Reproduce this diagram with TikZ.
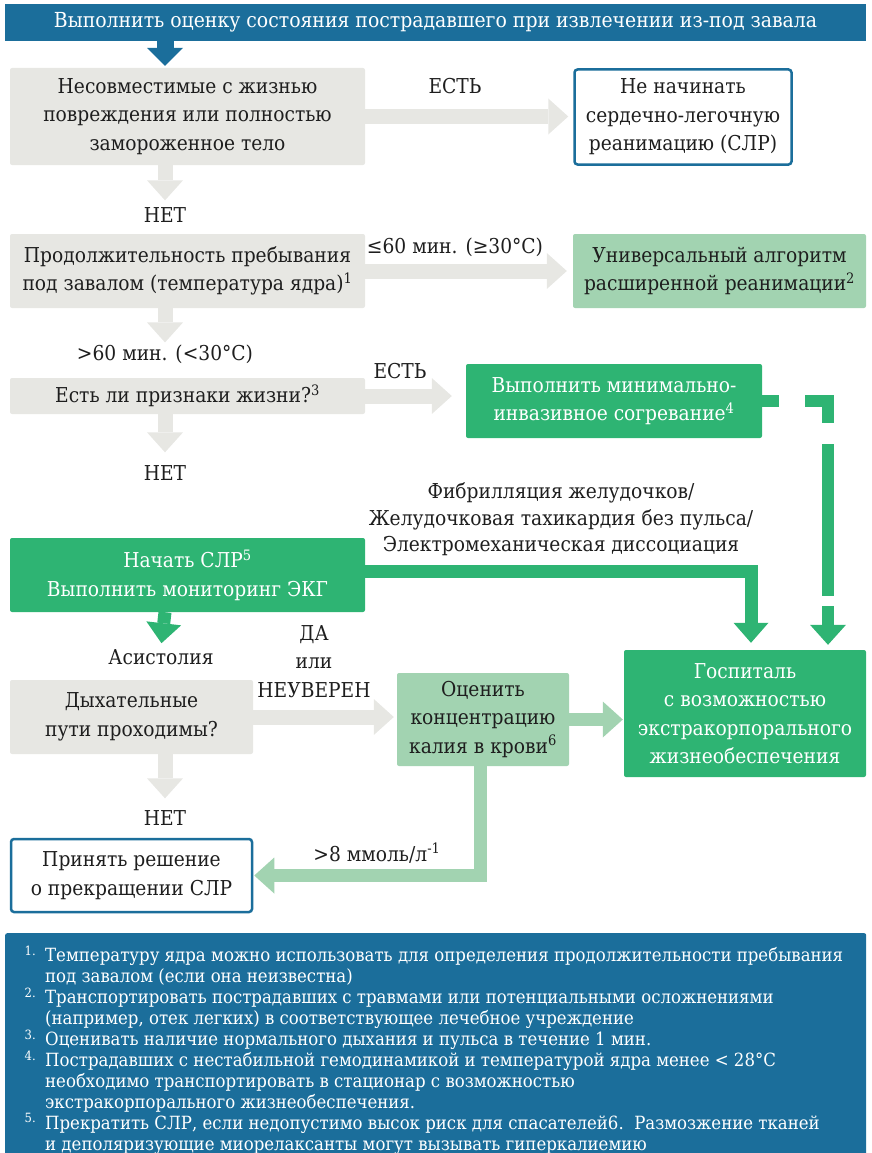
\documentclass[tikz,border=0pt]{standalone}
\usepackage{fontspec}
\setmainfont{DejaVu Serif}[FakeStretch=0.91]
\usepackage{tikz}
\usetikzlibrary{arrows.meta}
\definecolor{headblue}{HTML}{1B6E9B}
\definecolor{boxgray}{HTML}{E7E7E3}
\definecolor{darkgreen}{HTML}{2EB473}
\definecolor{lightgreen}{HTML}{A2D3B1}
\definecolor{ink}{HTML}{1E1E1E}
\newcommand{\flowfont}{\fontsize{20.5}{28.5}\selectfont}
\tikzstyle{title} = [rectangle, fill=headblue, text=white, minimum width=861pt, minimum height=37pt, font=\fontsize{20.7}{24}\selectfont]
\tikzstyle{question} = [rectangle, rounded corners=2pt, fill=boxgray, text=ink, align=center, font=\flowfont]
\tikzstyle{stopbox} = [rectangle, rounded corners=3pt, draw=headblue, line width=2.5pt, fill=white, text=ink, align=center, font=\flowfont]
\tikzstyle{action} = [rectangle, rounded corners=2pt, fill=darkgreen, text=white, align=center, font=\flowfont]
\tikzstyle{check} = [rectangle, rounded corners=2pt, fill=lightgreen, text=ink, align=center, font=\flowfont]
\tikzstyle{answer} = [inner sep=2pt, text=ink, align=center, font=\flowfont]
\tikzstyle{bluearrow} = [line width=17pt, draw=headblue, -{Triangle[length=18pt, width=36pt, line width=0pt]}]
\tikzstyle{grayarrow} = [line width=15pt, draw=boxgray, -{Triangle[length=20pt, width=36pt, line width=0pt]}]
\tikzstyle{greenarrow} = [line width=13pt, draw=darkgreen, -{Triangle[length=20pt, width=35pt, line width=0pt]}]
\tikzstyle{lightarrow} = [line width=13pt, draw=lightgreen, -{Triangle[length=20pt, width=36pt, line width=0pt]}]
\tikzstyle{dashedarrow} = [line width=12pt, draw=darkgreen, dash pattern=on 17pt off 26pt on 45pt off 21pt on 152pt off 10pt on 200pt, -{Triangle[length=20pt, width=36pt, line width=0pt]}]

\begin{document}
\begin{tikzpicture}[x=1pt, y=-1pt]
	\useasboundingbox (0,0) rectangle (871,1153);

	\node (head) [title] at (435.5,22.5) {Выполнить оценку состояния пострадавшего при извлечении из-под завала};

	\node (damage) [question, minimum width=355pt, minimum height=97pt] at (187.5,116.5) {Несовместимые с жизнью\\повреждения или полностью\\замороженное тело};
	\node (nocpr) [stopbox, minimum width=217pt, minimum height=95pt] at (683,117) {Не начинать\\сердечно-легочную\\реанимацию (СЛР)};
	\node (duration) [question, minimum width=355pt, minimum height=74pt] at (187.5,271) {Продолжительность пребывания\\под завалом (температура ядра)\textsuperscript{1}};
	\node (als) [check, minimum width=293pt, minimum height=74pt] at (719.5,271) {Универсальный алгоритм\\расширенной реанимации\textsuperscript{2}};
	\node (vital) [question, minimum width=355pt, minimum height=36pt] at (187.5,396) {Есть ли признаки жизни?\textsuperscript{3}};
	\node (rewarm) [action, minimum width=296pt, minimum height=74pt] at (614,401) {Выполнить минимально-\\инвазивное согревание\textsuperscript{4}};
	\node (startcpr) [action, minimum width=355pt, minimum height=74pt] at (187.5,575) {Начать СЛР\textsuperscript{5}\\Выполнить мониторинг ЭКГ};
	\node (ecls) [action, minimum width=242pt, minimum height=127pt] at (745,713.5) {Госпиталь\\с возможностью\\экстракорпорального\\жизнеобеспечения};
	\node (airway) [question, minimum width=243pt, minimum height=74pt] at (131.5,717) {Дыхательные\\пути проходимы?};
	\node (kalium) [check, minimum width=172pt, minimum height=93pt] at (483,719.5) {Оценить\\концентрацию\\калия в крови\textsuperscript{6}};
	\node (term) [stopbox, minimum width=241pt, minimum height=73pt] at (131.5,875.5) {Принять решение\\о прекращении СЛР};

	\node (yes1) [answer] at (455,86) {ЕСТЬ};
	\node (no1) [answer] at (165,215) {НЕТ};
	\node (short) [answer] at (455,247) {≤60 мин. (≥30°C)};
	\node (long) [answer] at (165,354) {>60 мин. (<30°C)};
	\node (yes2) [answer] at (400,371) {ЕСТЬ};
	\node (no2) [answer] at (165,473) {НЕТ};
	\node (rhythm) [answer, font=\fontsize{20.5}{26.5}\selectfont] at (561,519.5) {Фибрилляция желудочков/\\Желудочковая тахикардия без пульса/\\Электромеханическая диссоциация};
	\node (asys) [answer] at (161,657) {Асистолия};
	\node (unsure) [answer] at (314,661.5) {ДА\\или\\НЕУВЕРЕН};
	\node (no3) [answer] at (165,818) {НЕТ};
	\node (potassium) [answer] at (377,853) {>8 ммоль/л\textsuperscript{-1}};

	\coordinate (col) at (165,0);
	\coordinate (fcol) at (751,0);
	\coordinate (dcol) at (828,0);
	\coordinate (kcol) at (480,0);

	\draw [bluearrow, shorten >=2pt] (head.south -| col) -- (damage.north -| col);
	\draw [grayarrow, shorten >=5pt] (damage.east) -- (damage.east -| nocpr.west);
	\draw [grayarrow, shorten >=5pt] (damage.south -| col) -- (no1.north);
	\draw [grayarrow, shorten >=6pt] (duration.east) -- (als.west);
	\draw [grayarrow] (duration.south -| col) -- (long.north);
	\draw [grayarrow, shorten >=14pt] (vital.east) -- (vital.east -| rewarm.west);
	\draw [grayarrow, shorten >=11pt] (vital.south -| col) -- (no2.north);
	\draw [greenarrow, shorten >=4pt] (startcpr.south -| col) -- (asys.north);
	\draw [greenarrow, shorten >=7pt] ([yshift=4pt]startcpr.east) -| (ecls.north -| fcol);
	\draw [dashedarrow, shorten >=5pt] (rewarm.east) -| (ecls.north -| dcol);
	\draw [grayarrow, shorten >=3pt] (airway.east) -- (airway.east -| kalium.west);
	\draw [grayarrow, shorten >=10pt] (airway.south -| col) -- (no3.north);
	\draw [lightarrow, shorten >=1pt] (kalium.east) -- (kalium.east -| ecls.west);
	\draw [lightarrow, shorten >=1pt] (kalium.south -| kcol) |- (term.east);

	% footnotes
	\node (notes) [rectangle, rounded corners=2pt, fill=headblue, minimum width=861pt, minimum height=230pt, anchor=north west] at (5,933) {};
	\node (notetext) [anchor=north west, align=left, inner sep=0pt, text=white, font=\fontsize{18.2}{20.9}\selectfont] at (45,946) {%
\llap{\textsuperscript{1.}\hspace{9pt}}Температуру ядра можно использовать для определения продолжительности пребывания\\
под завалом (если она неизвестна)\\
\llap{\textsuperscript{2.}\hspace{9pt}}Транспортировать пострадавших с травмами или потенциальными осложнениями\\
(например, отек легких) в соответствующее лечебное учреждение\\
\llap{\textsuperscript{3.}\hspace{9pt}}Оценивать наличие нормального дыхания и пульса в течение 1 мин.\\
\llap{\textsuperscript{4.}\hspace{9pt}}Пострадавших с нестабильной гемодинамикой и температурой ядра менее < 28°C\\
необходимо транспортировать в стационар с возможностью\\
экстракорпорального жизнеобеспечения.\\
\llap{\textsuperscript{5.}\hspace{9pt}}Прекратить СЛР, если недопустимо высок риск для спасателей6.\ \ Размозжение тканей\\
и деполяризующие миорелаксанты могут вызывать гиперкалиемию};

\end{tikzpicture}
\end{document}
